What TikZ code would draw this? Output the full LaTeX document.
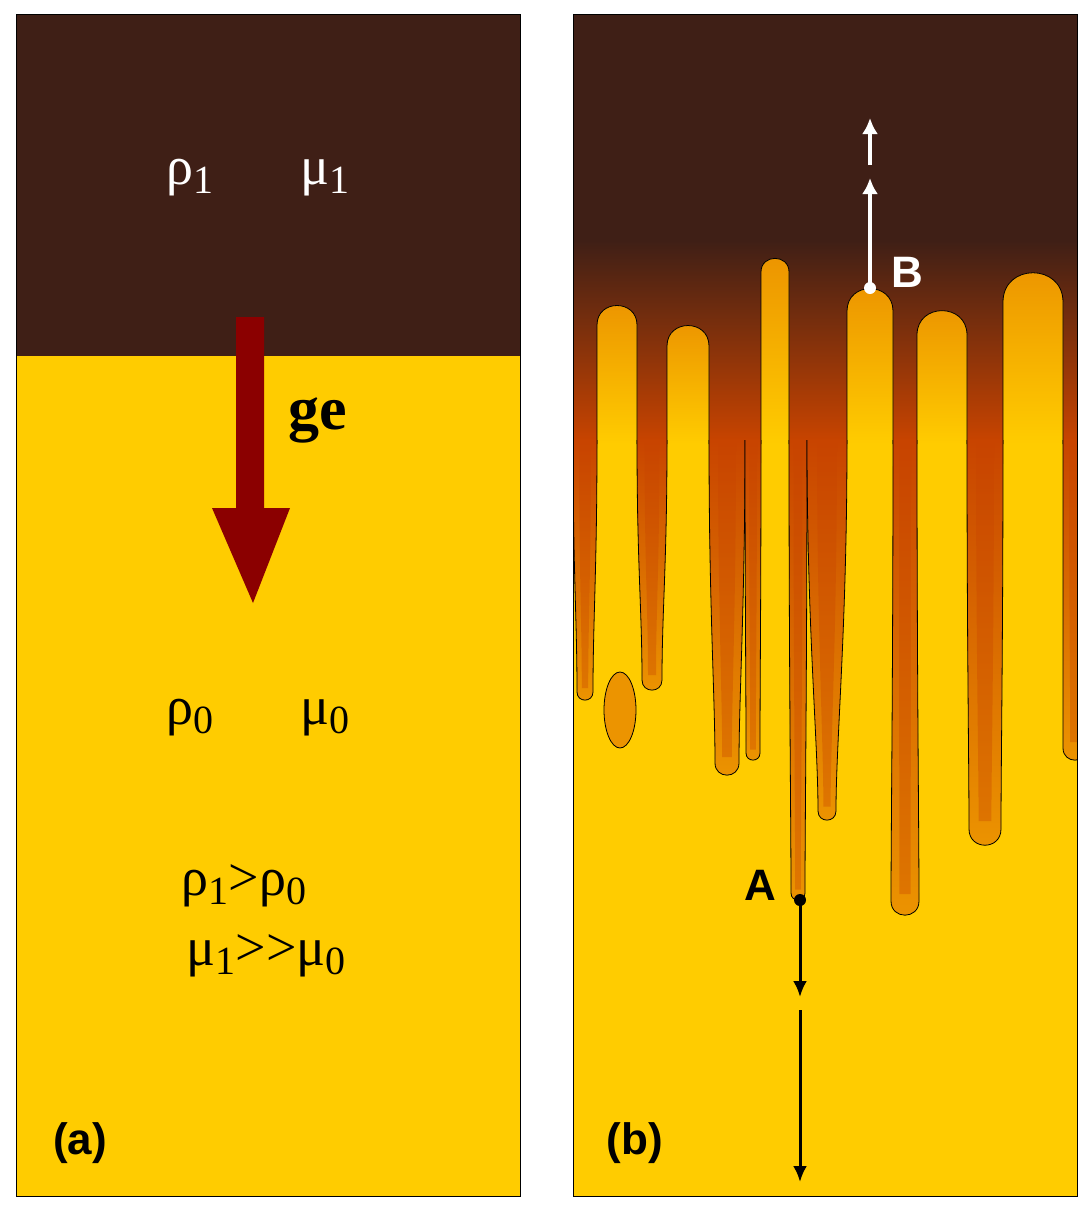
\documentclass[tikz,border=0pt]{standalone}
\usepackage{fontspec}
\setmainfont{Liberation Serif}
\setsansfont{Liberation Sans}
\usetikzlibrary{arrows.meta}
\definecolor{dk}{HTML}{3F1F16}
\definecolor{yl}{HTML}{FFCC00}
\definecolor{ar}{HTML}{8B0000}
\definecolor{org}{HTML}{EC9400}
\definecolor{rorg}{HTML}{C84400}
\definecolor{bub}{HTML}{FFCC00}
\newcommand\sub[1]{\raisebox{-0.35ex}{\fontsize{40}{40}\selectfont #1}}
\newcommand\myfinger[4]{%
\path[fingerst] (#1-#3,440) .. controls (#1-#3,{(440+#2)/2}) and (#1-#4,#2-80) .. (#1-#4,#2-#4)
 .. controls (#1-#4,#2+#4*0.35) and (#1+#4,#2+#4*0.35) .. (#1+#4,#2-#4)
 .. controls (#1+#4,#2-80) and (#1+#3,{(440+#2)/2}) .. (#1+#3,440);
\fill[rorg,opacity=0.35] (#1-#3*0.5,440) .. controls (#1-#3*0.5,{(440+#2)/2}) and (#1-#4*0.4,#2-80) .. (#1-#4*0.4,#2-#4*1.5)
 -- (#1+#4*0.4,#2-#4*1.5) .. controls (#1+#4*0.4,#2-80) and (#1+#3*0.5,{(440+#2)/2}) .. (#1+#3*0.5,440) -- cycle;}
% left edge, right edge, top y
\newcommand\mybub[3]{%
\path[bubst] (#1,444) -- (#1,{#3+(#2-#1)/2}) .. controls (#1,{#3-0.15*(#2-#1)}) and (#2,{#3-0.15*(#2-#1)}) .. (#2,{#3+(#2-#1)/2}) -- (#2,444);}
\tikzset{
 fingerst/.style={top color=rorg, bottom color=org, draw=black, line width=0.8pt},
 bubst/.style={top color=org, bottom color=bub, draw=black, line width=0.8pt},
 greek/.style={font=\fontsize{54}{54}\selectfont, inner sep=0pt},
 lab/.style={font=\sffamily\bfseries\fontsize{44}{44}\selectfont, inner sep=0pt},
 warr/.style={white, line width=4pt, -{Latex[length=16pt,width=16pt]}},
 barr/.style={black, line width=3pt, -{Latex[length=16pt,width=14pt]}}
}
\begin{document}
\begin{tikzpicture}[x=1pt,y=-1pt]
\useasboundingbox (0,0) rectangle (1092,1211);
% panel a
\fill[yl] (16,14) rectangle (520,1196);
\fill[dk] (16,14) rectangle (520,356);
\draw[line width=0.6pt] (16,14) rectangle (520,1196);
\fill[ar] (236,317) -- (264,317) -- (264,508) -- (290,508) -- (253,603) -- (212,508) -- (236,508) -- cycle;
\node[greek,text=white] (r1) at (190,178) {ρ\sub{1}};
\node[greek,text=white] (m1) at (325,178) {μ\sub{1}};
\node[font=\bfseries\fontsize{62}{62}\selectfont,inner sep=0pt] (ge) at (318,420) {ge};
\node[greek] (r0) at (190,718) {ρ\sub{0}};
\node[greek] (m0) at (325,718) {μ\sub{0}};
\node[greek] (ineq1) at (244,886) {ρ\sub{1}>ρ\sub{0}};
\node[greek] (ineq2) at (266,956) {μ\sub{1}>{}>μ\sub{0}};
\node[lab] (la) at (80,1143) {(a)};
% panel b
\begin{scope}
\clip (573,14) rectangle (1077,1196);
\fill[yl] (573,14) rectangle (1077,1196);
\fill[top color=dk, bottom color=rorg] (573,240) rectangle (1077,441);
\fill[dk] (573,14) rectangle (1077,242);
\mybub{597}{637}{305}
\mybub{667}{709}{325}
\mybub{761}{789}{258}
\mybub{847}{893}{288}
\mybub{917}{967}{310}
\mybub{1003}{1063}{272}
\myfinger{585}{700}{12}{8}
\myfinger{652}{690}{15}{10}
\myfinger{727}{775}{18}{12}
\myfinger{753}{760}{8}{7}
\myfinger{798}{900}{9}{7}
\myfinger{827}{820}{20}{9}
\myfinger{905}{915}{12}{14}
\myfinger{985}{845}{18}{16}
\myfinger{1075}{760}{12}{12}
\filldraw[fill=org,draw=black,line width=0.8pt] (620,710) ellipse [x radius=16pt,y radius=38pt];
\end{scope}
\draw[line width=0.6pt] (573,14) rectangle (1077,1196);
\coordinate (B) at (870,288);
\coordinate (B1) at (870,178);
\coordinate (B2) at (870,165);
\coordinate (B3) at (870,118);
\draw[warr] (B) -- (B1);
\draw[warr] (B2) -- (B3);
\fill[white] (B) circle (6pt);
\node[lab,text=white] (lb) at (907,272) {B};
\coordinate (A) at (800,900);
\coordinate (A1) at (800,997);
\coordinate (A2) at (800,1010);
\coordinate (A3) at (800,1182);
\draw[barr] (A) -- (A1);
\draw[barr] (A2) -- (A3);
\fill[black] (A) circle (6pt);
\node[lab] (lA) at (760,885) {A};
\node[lab] (lbb) at (635,1143) {(b)};
\end{tikzpicture}
\end{document}
